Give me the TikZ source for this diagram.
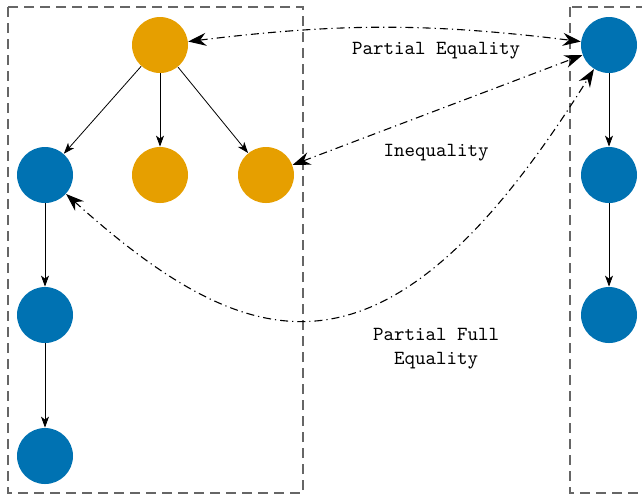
\documentclass[tikz,border=0pt]{standalone}
\usetikzlibrary{arrows.meta}
\definecolor{nodeorange}{HTML}{E69F00}
\definecolor{nodeblue}{HTML}{0072B2}
\begin{document}
\begin{tikzpicture}[x=0.5pt,y=0.5pt]
    % Define style for nodes, links and boxes
    \tikzstyle{orangenode} = [circle, fill=nodeorange, minimum size=28pt, inner sep=0pt]
    \tikzstyle{bluenode} = [circle, fill=nodeblue, minimum size=28pt, inner sep=0pt]
    \tikzstyle{link} = [-{Stealth[length=5.5pt,width=4pt,inset=1.5pt]}, black]
    \tikzstyle{match} = [{Stealth[length=9pt,width=6.5pt,inset=3pt]}-{Stealth[length=9pt,width=6.5pt,inset=3pt]}, line width=0.55pt, dash pattern=on 4pt off 2pt on 0.6pt off 2pt, black]
    \tikzstyle{box} = [black!60, line width=0.8pt, dash pattern=on 5pt off 3pt]
    \tikzstyle{lbl} = [font=\ttfamily, align=center]

    \useasboundingbox (0,0) rectangle (642,-495);

    % Draw the boxes
    \draw[box] (8,-7) rectangle (303,-493);
    \draw[box] (570,-7) rectangle (690,-493);

    % Draw the nodes
    \node(root)[orangenode] at (160,-45) {};
    \node(m1)[orangenode] at (160,-175) {};
    \node(m2)[orangenode] at (266,-175) {};
    \foreach \row/\y in {1/175,2/315,3/456} {
        \node(l\row)[bluenode] at (45,-\y) {};
      }
    \foreach \row/\y in {1/45,2/175,3/315} {
        \node(r\row)[bluenode] at (609,-\y) {};
      }

    % Tree links
    \foreach \child in {l1,m1,m2} {
        \draw[link] (root) -- (\child);
      }
    \draw[link] (l1) -- (l2);
    \draw[link] (l2) -- (l3);
    \draw[link] (r1) -- (r2);
    \draw[link] (r2) -- (r3);

    % Matchings
    \draw[match] (root) to[bend left=7] (r1);
    \draw[match] (m2) -- (r1);
    \draw[match] (l1) .. controls +(-42:142pt) and +(-122:206pt) .. (r1);

    \node(lblpe)[lbl] at (436,-51) {Partial Equality};
    \node(lblineq)[lbl] at (436,-153) {Inequality};
    \node(lblpfe)[lbl] at (436,-349) {Partial Full\\Equality};
  \end{tikzpicture}
\end{document}
